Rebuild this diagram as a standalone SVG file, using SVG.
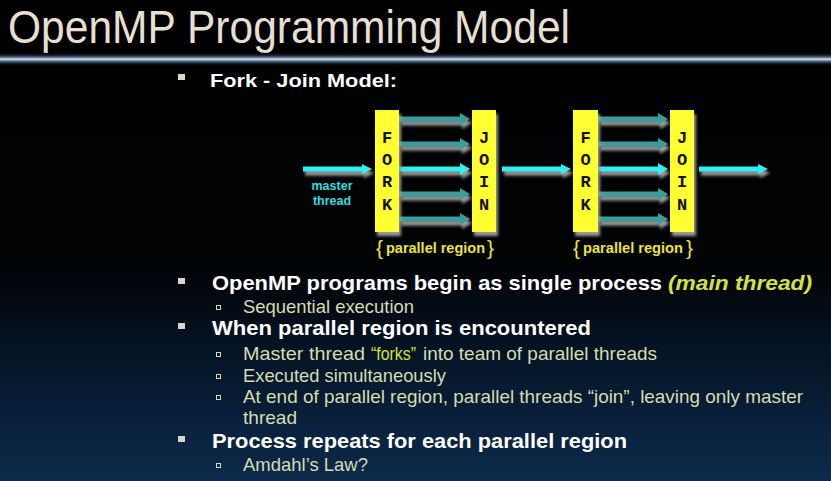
<svg xmlns="http://www.w3.org/2000/svg" width="831" height="481" viewBox="0 0 831 481">
<defs>
<linearGradient id="bg" x1="0" y1="0" x2="0" y2="1">
<stop offset="0" stop-color="#000000"/>
<stop offset="0.55" stop-color="#010305"/>
<stop offset="0.8" stop-color="#061a30"/>
<stop offset="1" stop-color="#0d2a4c"/>
</linearGradient>
<linearGradient id="rule" x1="0" y1="0" x2="0" y2="1">
<stop offset="0" stop-color="#000000" stop-opacity="0"/>
<stop offset="0.3" stop-color="#2c3a4c"/>
<stop offset="0.45" stop-color="#8fa4c0"/>
<stop offset="0.5" stop-color="#e6f0ff"/>
<stop offset="0.58" stop-color="#8fa4c0"/>
<stop offset="0.75" stop-color="#2c3a4c"/>
<stop offset="1" stop-color="#000000" stop-opacity="0"/>
</linearGradient>
<filter id="shadow" x="-20%" y="-50%" width="150%" height="250%">
<feGaussianBlur in="SourceAlpha" stdDeviation="1.6" result="b"/>
<feOffset in="b" dx="2" dy="4" result="o"/>
<feFlood flood-color="#9a9a9a"/>
<feComposite in2="o" operator="in" result="s"/>
<feMerge><feMergeNode in="s"/><feMergeNode in="SourceGraphic"/></feMerge>
</filter>
</defs>
<style>
.title{font-family:"Liberation Sans",Arial,sans-serif;font-size:46px;fill:#e6dfd2}
.box{fill:#ffff33}
.lt{font-family:"Liberation Mono","Courier New",monospace;font-weight:bold;font-size:17px;fill:#111;text-anchor:middle}
.thr{fill:#3a9c9c}
.main{fill:#33eeee}
.cy{font-family:"Liberation Sans",Arial,sans-serif;font-weight:bold;font-size:12.5px;fill:#33dddd;text-anchor:middle}
.pr{font-family:"Liberation Sans",Arial,sans-serif;font-weight:bold;font-size:14.5px;fill:#ece43a}
.br{font-family:"Liberation Sans",Arial,sans-serif;font-size:21px;fill:#ece43a}
.h1{font-family:"Liberation Sans",Arial,sans-serif;font-weight:bold;font-size:21px;fill:#ffffff}
.h0{font-family:"Liberation Sans",Arial,sans-serif;font-weight:bold;font-size:19px;fill:#ffffff}
.s1{font-family:"Liberation Sans",Arial,sans-serif;font-size:19px;fill:#d6dcb0}
.hl{fill:#d6e040}
.b1{fill:#d8d6c8}
.b2{fill:none;stroke:#d6dcb0;stroke-width:1}
</style>
<rect x="0" y="0" width="831" height="481" fill="url(#bg)"/>
<g id="header">
<text class="title" x="8" y="43" textLength="562" lengthAdjust="spacingAndGlyphs">OpenMP Programming Model</text>
<rect x="0" y="52" width="831" height="14" fill="url(#rule)"/>
</g>
<g id="bullet-fork">
<rect class="b1" x="178" y="74" width="7" height="6"/>
<text class="h0" x="210" y="87" textLength="187" lengthAdjust="spacingAndGlyphs">Fork - Join Model:</text>
</g>
<g id="connectors" filter="url(#shadow)">
<path class="main" d="M303,166.5 H362 V164 L372,169 L362,174 V171.5 H303 Z"/>
<path class="thr" d="M399,116.5 H460 V113 L470,119 L460,125 V121.5 H399 Z"/>
<path class="thr" d="M399,141.5 H460 V138 L470,144 L460,150 V146.5 H399 Z"/>
<path class="main" d="M399,166.5 H460 V163 L470,169 L460,175 V171.5 H399 Z"/>
<path class="thr" d="M399,191.5 H460 V188 L470,194 L460,200 V196.5 H399 Z"/>
<path class="thr" d="M399,216.5 H460 V213 L470,219 L460,225 V221.5 H399 Z"/>
<path class="main" d="M502,166.5 H561 V164 L571,169 L561,174 V171.5 H502 Z"/>
<path class="thr" d="M598,116.5 H658 V113 L668,119 L658,125 V121.5 H598 Z"/>
<path class="thr" d="M598,141.5 H658 V138 L668,144 L658,150 V146.5 H598 Z"/>
<path class="main" d="M598,166.5 H658 V163 L668,169 L658,175 V171.5 H598 Z"/>
<path class="thr" d="M598,191.5 H658 V188 L668,194 L658,200 V196.5 H598 Z"/>
<path class="thr" d="M598,216.5 H658 V213 L668,219 L658,225 V221.5 H598 Z"/>
<path class="main" d="M699,166.5 H758 V164 L768,169 L758,174 V171.5 H699 Z"/>
</g>
<g id="fork1">
<rect class="box" x="375" y="110" width="24" height="122" filter="url(#shadow)"/>
<text class="lt" x="387" y="143">F</text>
<text class="lt" x="387" y="165">O</text>
<text class="lt" x="387" y="187">R</text>
<text class="lt" x="387" y="210">K</text>
</g>
<g id="join1">
<rect class="box" x="472" y="110" width="24" height="122" filter="url(#shadow)"/>
<text class="lt" x="484" y="143">J</text>
<text class="lt" x="484" y="165">O</text>
<text class="lt" x="484" y="187">I</text>
<text class="lt" x="484" y="210">N</text>
</g>
<g id="fork2">
<rect class="box" x="573" y="110" width="25" height="122" filter="url(#shadow)"/>
<text class="lt" x="585.5" y="143">F</text>
<text class="lt" x="585.5" y="165">O</text>
<text class="lt" x="585.5" y="187">R</text>
<text class="lt" x="585.5" y="210">K</text>
</g>
<g id="join2">
<rect class="box" x="670" y="110" width="24" height="122" filter="url(#shadow)"/>
<text class="lt" x="682" y="143">J</text>
<text class="lt" x="682" y="165">O</text>
<text class="lt" x="682" y="187">I</text>
<text class="lt" x="682" y="210">N</text>
</g>
<g id="master-label">
<text class="cy" x="332" y="190">master</text>
<text class="cy" x="332" y="205">thread</text>
</g>
<g id="region1">
<text class="br" x="376" y="255">{</text>
<text class="pr" x="386" y="253" textLength="99" lengthAdjust="spacingAndGlyphs">parallel region</text>
<text class="br" x="487" y="255">}</text>
</g>
<g id="region2">
<text class="br" x="573" y="255">{</text>
<text class="pr" x="583" y="253" textLength="100" lengthAdjust="spacingAndGlyphs">parallel region</text>
<text class="br" x="686" y="255">}</text>
</g>
<g id="bullets">
<rect class="b1" x="178" y="278" width="7" height="6"/>
<text class="h1" x="212" y="290" textLength="450" lengthAdjust="spacingAndGlyphs">OpenMP programs begin as single process</text>
<text class="h1 hl" x="668" y="290" textLength="144" lengthAdjust="spacingAndGlyphs" font-style="italic">(main thread)</text>
<rect class="b2" x="216.5" y="305.5" width="4" height="4"/>
<text class="s1" x="243" y="313" textLength="171" lengthAdjust="spacingAndGlyphs">Sequential execution</text>
<rect class="b1" x="178" y="323" width="7" height="6"/>
<text class="h1" x="212" y="335" textLength="379" lengthAdjust="spacingAndGlyphs">When parallel region is encountered</text>
<rect class="b2" x="216.5" y="352.5" width="4" height="4"/>
<text class="s1" x="243" y="360" textLength="122" lengthAdjust="spacingAndGlyphs">Master thread</text>
<text class="s1 hl" x="371" y="360" textLength="45" lengthAdjust="spacingAndGlyphs">“forks”</text>
<text class="s1" x="423" y="360" textLength="234" lengthAdjust="spacingAndGlyphs">into team of parallel threads</text>
<rect class="b2" x="216.5" y="374.5" width="4" height="4"/>
<text class="s1" x="243" y="382" textLength="203" lengthAdjust="spacingAndGlyphs">Executed simultaneously</text>
<rect class="b2" x="216.5" y="395.5" width="4" height="4"/>
<text class="s1" x="243" y="403" textLength="560" lengthAdjust="spacingAndGlyphs">At end of parallel region, parallel threads “join”, leaving only master</text>
<text class="s1" x="243" y="424" textLength="54" lengthAdjust="spacingAndGlyphs">thread</text>
<rect class="b1" x="178" y="436" width="7" height="6"/>
<text class="h1" x="212" y="448" textLength="415" lengthAdjust="spacingAndGlyphs">Process repeats for each parallel region</text>
<rect class="b2" x="216.5" y="463.5" width="4" height="4"/>
<text class="s1" x="243" y="471" textLength="125" lengthAdjust="spacingAndGlyphs">Amdahl’s Law?</text>
</g>
</svg>
